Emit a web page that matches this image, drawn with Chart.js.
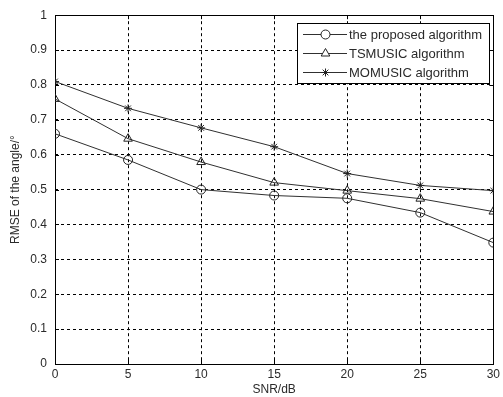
<!DOCTYPE html>
<html>
<head>
<meta charset="utf-8">
<script src="https://cdn.jsdelivr.net/npm/chart.js@4/dist/chart.umd.min.js"></script>
<style>
    html, body { margin: 0; padding: 0; background: #fff; }
    #wrap { width: 503px; height: 397px; }
</style>
</head>
<body>
<div id="wrap"><canvas id="rmseChart" width="503" height="397"></canvas></div>
<script>
// values
const snr = [0, 5, 10, 15, 20, 25, 30];
const proposed = [0.66, 0.585, 0.50, 0.483, 0.475, 0.434, 0.348];
const tsmusic = [0.76, 0.646, 0.579, 0.52, 0.497, 0.474, 0.437];
const momusic = [0.81, 0.733, 0.677, 0.623, 0.546, 0.512, 0.497];
const seriesNames = ["the proposed algorithm", "TSMUSIC algorithm", "MOMUSIC algorithm"];
const markers = ["circle", "triangle", "star"];
const markerSizes = [4.5, 5, 4];

const font = "Liberation Sans, Arial, sans-serif";
const ink = "#2a2a2a";

function toPoints(values) {
    return values.map((v, i) => ({ x: snr[i], y: v }));
}

// solid box around the plot + small inward ticks (matlab style)
const framePlugin = {
    id: "frame",
    beforeDatasetsDraw(chart) {
        const { ctx, chartArea: a, scales } = chart;
        ctx.save();
        ctx.strokeStyle = "#000";
        ctx.lineWidth = 1;
        ctx.beginPath();
        scales.x.ticks.forEach(t => {
            const px = Math.round(scales.x.getPixelForValue(t.value)) + 0.5;
            ctx.moveTo(px, a.bottom); ctx.lineTo(px, a.bottom - 4);
            ctx.moveTo(px, a.top); ctx.lineTo(px, a.top + 4);
        });
        scales.y.ticks.forEach(t => {
            const py = Math.round(scales.y.getPixelForValue(t.value)) + 0.5;
            ctx.moveTo(a.left, py); ctx.lineTo(a.left + 4, py);
            ctx.moveTo(a.right, py); ctx.lineTo(a.right - 4, py);
        });
        ctx.stroke();
        ctx.strokeRect(Math.round(a.left) + 0.5, Math.round(a.top) + 0.5,
            Math.round(a.right - a.left), Math.round(a.bottom - a.top));
        ctx.restore();
    }
};

// legend box in the upper right corner
const legendPlugin = {
    id: "boxLegend",
    afterDatasetsDraw(chart) {
        const { ctx } = chart;
        const x0 = 297, y0 = 23, w = 192, h = 60;
        ctx.save();
        ctx.fillStyle = "#fff";
        ctx.fillRect(x0, y0, w, h);
        ctx.strokeStyle = "#000";
        ctx.lineWidth = 1;
        ctx.strokeRect(x0 + 0.5, y0 + 0.5, w, h);
        chart.data.datasets.forEach((ds, i) => {
            const y = 34 + i * 19;
            ctx.strokeStyle = ds.borderColor;
            ctx.beginPath();
            ctx.moveTo(303, y + 0.5);
            ctx.lineTo(347, y + 0.5);
            ctx.stroke();
            ctx.strokeStyle = "#222";
            ctx.fillStyle = "#fff";
            Chart.helpers.drawPoint(ctx, {
                pointStyle: ds.pointStyle,
                radius: ds.pointRadius,
                rotation: 0,
                borderWidth: 1
            }, 325.5, y + 0.5);
            ctx.fillStyle = ink;
            ctx.font = "13px " + font;
            ctx.textBaseline = "middle";
            ctx.fillText(ds.label, 349, y + 1);
        });
        ctx.restore();
    }
};

function makeSet(i, values) {
    return {
        label: seriesNames[i],
        data: toPoints(values),
        borderColor: "#303030",
        borderWidth: 1,
        backgroundColor: "rgba(0,0,0,0)",
        pointStyle: markers[i],
        pointRadius: markerSizes[i],
        pointBorderWidth: 1,
        pointBorderColor: "#222",
        pointBackgroundColor: "rgba(0,0,0,0)",
        tension: 0
    };
}

new Chart(document.getElementById("rmseChart").getContext("2d"), {
    type: "line",
    data: {
        datasets: [
            makeSet(0, proposed),
            makeSet(1, tsmusic),
            makeSet(2, momusic)
        ]
    },
    options: {
        responsive: false,
        animation: false,
        layout: { padding: { top: 15, right: 7, left: 0, bottom: 0 }, autoPadding: false },
        plugins: {
            legend: { display: false },
            tooltip: { enabled: false }
        },
        scales: {
            x: {
                type: "linear",
                min: 0,
                max: 30,
                afterFit: scale => { scale.height = 33; },
                ticks: { stepSize: 5, color: ink, padding: 3, font: { family: font, size: 12 } },
                grid: { color: "#000", lineWidth: 1, drawTicks: false },
                border: { display: false, dash: [3, 3] },
                title: {
                    display: true,
                    text: "SNR/dB",
                    color: ink,
                    padding: { top: 0, bottom: 0 },
                    font: { family: font, size: 12 }
                }
            },
            y: {
                min: 0,
                max: 1,
                afterFit: scale => { scale.width = 55; },
                ticks: {
                    stepSize: 0.1,
                    color: ink,
                    padding: 8,
                    font: { family: font, size: 12 },
                    callback: v => String(Math.round(v * 10) / 10)
                },
                grid: { color: "#000", lineWidth: 1, drawTicks: false },
                border: { display: false, dash: [3, 3] },
                title: {
                    display: true,
                    text: "RMSE of the angle/°",
                    color: ink,
                    padding: { top: 8, bottom: 0 },
                    font: { family: font, size: 12 }
                }
            }
        }
    },
    plugins: [framePlugin, legendPlugin]
});
</script>
</body>
</html>
